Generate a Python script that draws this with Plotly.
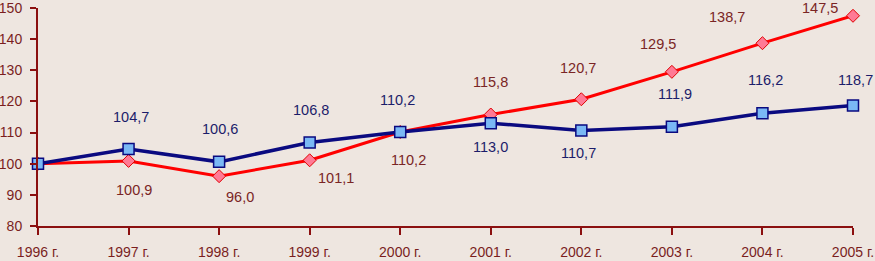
import plotly.graph_objects as go

years = ["1996 г.", "1997 г.", "1998 г.", "1999 г.", "2000 г.", "2001 г.", "2002 г.", "2003 г.", "2004 г.", "2005 г."]
red_values = [100.0, 100.9, 96.0, 101.1, 110.2, 115.8, 120.7, 129.5, 138.7, 147.5]
blue_values = [100.0, 104.7, 100.6, 106.8, 110.2, 113.0, 110.7, 111.9, 116.2, 118.7]
y_ticks = [80, 90, 100, 110, 120, 130, 140, 150]

# label offsets in pixels (x shift, y shift); None = no label
red_offsets = [None, (5, -29), (21, -21), (26, -18), (8, -28), (0, 33), (-3, 31), (-14, 28), (-35, 26), (-33, 8)]
blue_offsets = [None, (2, 32), (1, 33), (1, 33), (-3, 32), (0, -24), (-3, -23), (3, 33), (3, 33), (2, 25)]

FONT = "Liberation Sans, Arial, sans-serif"
AXIS = "#8B1010"
TICKTXT = "#7A1E1E"
RED_TXT = "#7A2525"
BLUE_TXT = "#1C1C6A"
BG = "#EEE6E0"

x = list(range(len(years)))

fig = go.Figure()
fig.add_trace(go.Scatter(
    x=x, y=red_values, mode="lines+markers",
    line=dict(color="#FF0000", width=3),
    marker=dict(symbol="diamond", size=10, color="#FF7A95", line=dict(color="#E00000", width=1)),
    showlegend=False, hoverinfo="skip", cliponaxis=False))
fig.add_trace(go.Scatter(
    x=x, y=blue_values, mode="lines+markers",
    line=dict(color="#0A0A80", width=3.5),
    marker=dict(symbol="square", size=11, color="#7AB8F5", line=dict(color="#0A0A80", width=1.5)),
    showlegend=False, hoverinfo="skip", cliponaxis=False))

def fmt(v):
    return f"{v:.1f}".replace(".", ",")

for i, (v, off) in enumerate(zip(red_values, red_offsets)):
    if off is None:
        continue
    fig.add_annotation(x=x[i], y=v, text=fmt(v), showarrow=False, xshift=off[0], yshift=off[1],
                       font=dict(family=FONT, size=14.5, color=RED_TXT))
for i, (v, off) in enumerate(zip(blue_values, blue_offsets)):
    if off is None:
        continue
    fig.add_annotation(x=x[i], y=v, text=fmt(v), showarrow=False, xshift=off[0], yshift=off[1],
                       font=dict(family=FONT, size=14.5, color=BLUE_TXT))

fig.update_layout(
    width=875, height=261,
    margin=dict(l=38, r=22, t=8, b=35),
    paper_bgcolor=BG, plot_bgcolor=BG,
    xaxis=dict(range=[0, 9], tickmode="array", tickvals=x, ticktext=years, automargin=False,
               showgrid=False, zeroline=False, showline=True, linecolor=AXIS, linewidth=2,
               ticks="outside", ticklen=7, tickcolor=AXIS, tickwidth=2,
               ticklabeloverflow="allow", ticklabelstandoff=5,
               tickfont=dict(family=FONT, size=14, color=TICKTXT)),
    yaxis=dict(range=[80, 150], tickmode="array", tickvals=y_ticks, automargin=False,
               showgrid=False, zeroline=False, showline=True, linecolor=AXIS, linewidth=2,
               ticks="outside", ticklen=6, tickcolor=AXIS, tickwidth=2,
               ticklabeloverflow="allow", ticklabelstandoff=5,
               tickfont=dict(family=FONT, size=14, color=TICKTXT)),
)

fig.write_html("out.html", config={"displayModeBar": False},
               post_script="document.body.style.margin='0';document.body.style.background='%s';" % BG)
